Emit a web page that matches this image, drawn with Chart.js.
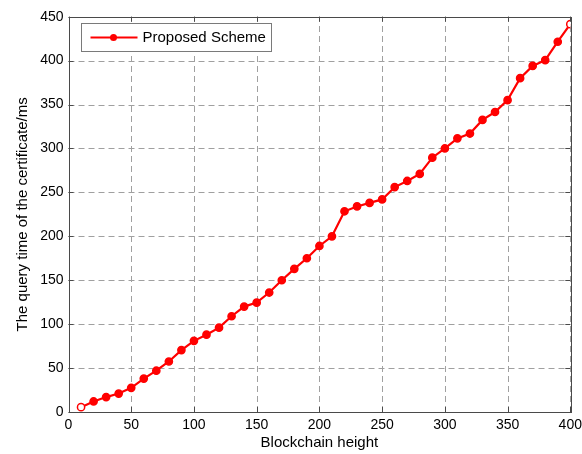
<!DOCTYPE html>
<html>
<head>
<meta charset="utf-8">
<script src="https://cdn.jsdelivr.net/npm/chart.js@4/dist/chart.umd.min.js"></script>
<style>
html,body{margin:0;padding:0;background:#fff;}
#wrap{width:582px;height:454px;position:relative;}
</style>
</head>
<body>
<div id="wrap"><canvas id="c" width="582" height="454"></canvas></div>
<script>
const heights = [10,20,30,40,50,60,70,80,90,100,110,120,130,140,150,160,170,180,190,200,210,220,230,240,250,260,270,280,290,300,310,320,330,340,350,360,370,380,390,400];
const queryTimes = [5.5,12,17,21,27.5,38,47,57.5,70.5,81,88,96,109,120,124.5,136,150,163,175,189,200,228.5,234,238,242,256,263,271,289.5,300,311.5,317,332.5,341.5,355,380,394,400.5,421.5,441.5];
const seriesLabel = 'Proposed Scheme';
const xTitle = 'Blockchain height';
const yTitle = 'The query time of the certificate/ms';
const xTicks = [0,50,100,150,200,250,300,350,400];
const yTicks = [0,50,100,150,200,250,300,350,400,450];

const RED = '#ff0000';
const FONT = "'Liberation Sans', Arial, Helvetica, sans-serif";

const points = heights.map((h,i)=>({x:h,y:queryTimes[i]}));
const bg = points.map((p,i)=> (i===0||i===points.length-1) ? '#ffffff' : RED);

const boxTicks = {
  id:'boxTicks',
  beforeDatasetsDraw(chart){
    const {ctx, chartArea:a, scales:{x,y}} = chart;
    ctx.save();
    ctx.strokeStyle='#a0a0a0';
    ctx.lineWidth=1;
    ctx.setLineDash([6,4]);
    ctx.beginPath();
    xTicks.forEach(v=>{
      const px=Math.round(x.getPixelForValue(v))+0.5;
      ctx.moveTo(px,a.bottom); ctx.lineTo(px,a.top);
    });
    yTicks.forEach(v=>{
      const py=Math.round(y.getPixelForValue(v))+0.5;
      ctx.moveTo(a.left,py); ctx.lineTo(a.right,py);
    });
    ctx.stroke();
    ctx.restore();
  },
  afterDatasetsDraw(chart){
    const {ctx, chartArea:a, scales:{x,y}} = chart;
    ctx.save();
    ctx.strokeStyle='#4a4a4a';
    ctx.lineWidth=1;
    ctx.beginPath();
    const L=5;
    xTicks.forEach(v=>{
      const px=Math.round(x.getPixelForValue(v))+0.5;
      ctx.moveTo(px,a.bottom); ctx.lineTo(px,a.bottom-L);
      ctx.moveTo(px,a.top); ctx.lineTo(px,a.top+L);
    });
    yTicks.forEach(v=>{
      const py=Math.round(y.getPixelForValue(v))+0.5;
      ctx.moveTo(a.left,py); ctx.lineTo(a.left+L,py);
      ctx.moveTo(a.right,py); ctx.lineTo(a.right-L,py);
    });
    ctx.stroke();
    ctx.strokeRect(Math.round(a.left)+0.5, Math.round(a.top)+0.5, Math.round(a.right-a.left), Math.round(a.bottom-a.top));
    ctx.restore();
  },
  afterDraw(chart){
    const ctx=chart.ctx;
    const a=chart.chartArea;
    const ds=chart.data.datasets[0];
    ctx.save();
    const bx=Math.round(a.left)+12.5, by=Math.round(a.top)+6.5, bw=190, bh=28;
    ctx.fillStyle='#fff';
    ctx.fillRect(bx,by,bw,bh);
    ctx.strokeStyle='#7a7a7a';
    ctx.lineWidth=1;
    ctx.strokeRect(bx,by,bw,bh);
    const cy=by+bh/2;
    ctx.strokeStyle=RED; ctx.lineWidth=2.2;
    ctx.beginPath(); ctx.moveTo(bx+9,cy); ctx.lineTo(bx+56,cy); ctx.stroke();
    ctx.fillStyle=RED;
    ctx.beginPath(); ctx.arc(bx+32,cy,3.5,0,Math.PI*2); ctx.fill();
    ctx.fillStyle='#000';
    ctx.font="15px "+FONT;
    ctx.textBaseline='middle';
    ctx.fillText(ds.label,bx+61,cy+0.5);
    ctx.restore();
  }
};

new Chart(document.getElementById('c'),{
  type:'line',
  data:{datasets:[{
    label:seriesLabel,
    data:points,
    borderColor:RED,
    borderWidth:2.2,
    pointRadius:3.6,
    pointBackgroundColor:bg,
    pointBorderColor:RED,
    pointBorderWidth:1.5,
    tension:0,
    fill:false
  }]},
  options:{
    responsive:false,
    animation:false,
    events:[],
    layout:{padding:{left:0,right:11.7,top:16.7,bottom:0}},
    plugins:{legend:{display:false},tooltip:{enabled:false}},
    scales:{
      x:{
        type:'linear',min:0,max:400,
        afterBuildTicks(s){s.ticks=xTicks.map(v=>({value:v}));},
        afterFit(s){s.height=42;s.paddingLeft=0;s.paddingRight=0;},
        grid:{display:false,drawTicks:false},
        border:{display:false},
        ticks:{font:{family:FONT,size:14},color:'#000',padding:5,maxRotation:0,autoSkip:false},
        title:{display:true,text:xTitle,font:{family:FONT,size:15},color:'#000',padding:{top:0,bottom:2}}
      },
      y:{
        type:'linear',min:0,max:450,
        afterBuildTicks(s){s.ticks=yTicks.map(v=>({value:v}));},
        afterFit(s){s.width=68.5;s.paddingTop=0;s.paddingBottom=0;},
        grid:{display:false,drawTicks:false},
        border:{display:false},
        ticks:{font:{family:FONT,size:14},color:'#000',padding:5,autoSkip:false},
        title:{display:true,text:yTitle,font:{family:FONT,size:15},color:'#000',padding:{top:14,bottom:0}}
      }
    }
  },
  plugins:[boxTicks]
});
</script>
</body>
</html>
